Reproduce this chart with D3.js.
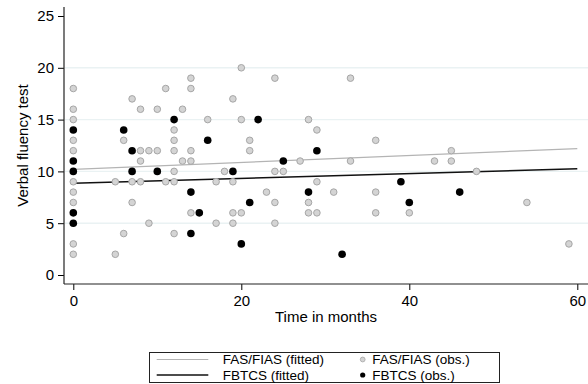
<!DOCTYPE html>
<html>
<head>
<meta charset="utf-8">
<script src="https://cdn.jsdelivr.net/npm/d3@7"></script>
<style>
  html, body { margin: 0; padding: 0; background: #fff; }
  svg { display: block; font-family: "Liberation Sans", Arial, sans-serif; }
</style>
</head>
<body>
<svg id="chart" width="588" height="384"></svg>
<script>
// FAS/FIAS observations: [months, score]
const fasObs = [
  [0,18],[0,16],[0,15],[0,13],[0,12],[0,9],[0,8],[0,7],[0,3],[0,2],
  [5,9],[5,2],
  [6,13],[6,4],
  [7,17],[7,9],[7,7],
  [8,16],[8,12],[8,11],[8,9],
  [9,12],[9,5],
  [10,16],[10,12],
  [11,18],[11,9],
  [12,14],[12,13],[12,12],[12,10],[12,9],[12,4],
  [13,16],[13,11],
  [14,19],[14,18],[14,12],[14,11],[14,6],
  [16,15],
  [17,9],[17,5],
  [18,10],
  [19,17],[19,9],[19,6],[19,5],
  [20,20],[20,15],[20,6],
  [21,13],[21,12],
  [23,8],
  [24,19],[24,10],[24,7],[24,5],
  [25,10],
  [27,11],
  [28,15],[28,7],[28,6],
  [29,14],[29,9],[29,6],
  [31,8],
  [33,19],[33,11],
  [36,13],[36,8],[36,6],
  [40,6],
  [43,11],
  [45,12],[45,11],
  [48,10],
  [54,7],
  [59,3]
];

// FBTCS observations: [months, score]
const fbtcsObs = [
  [0,14],[0,11],[0,10],[0,6],[0,5],
  [6,14],
  [7,12],[7,10],
  [10,10],
  [12,15],
  [14,8],[14,4],
  [15,6],
  [16,13],
  [19,10],
  [20,3],
  [21,7],
  [22,15],
  [25,11],
  [28,8],
  [29,12],
  [32,2],
  [39,9],
  [40,7],
  [46,8]
];

// Fitted lines: endpoints [months, score]
const fasFit = [[0,10.2],[60,12.2]];
const fbtcsFit = [[0,8.85],[60,10.25]];

const xTicks = [0, 20, 40, 60];
const yTicks = [0, 5, 10, 15, 20, 25];
const gridTicks = [5, 10, 15, 20];

const xTitle = "Time in months";
const yTitle = "Verbal fluency test";
const legendLabels = ["FAS/FIAS (fitted)", "FAS/FIAS (obs.)", "FBTCS (fitted)", "FBTCS (obs.)"];

const svg = d3.select("#chart");

const x = d3.scaleLinear().domain([0, 60]).range([73.3, 577.3]);
const y = d3.scaleLinear().domain([0, 25]).range([275, 16]);

const plotLeft = 64, plotRight = 588, plotTop = 7, plotBottom = 284;

// gridlines
svg.append("g")
  .selectAll("line")
  .data(gridTicks)
  .join("line")
  .attr("x1", plotLeft + 1).attr("x2", plotRight)
  .attr("y1", d => y(d)).attr("y2", d => y(d))
  .attr("stroke", "#eaf2f3")
  .attr("stroke-width", 1.4);

// axes
const yAxis = svg.append("g")
  .attr("transform", `translate(${plotLeft},0)`)
  .call(d3.axisLeft(y).tickValues(yTicks).tickSize(6).tickPadding(4).tickFormat(d3.format("d")));
yAxis.select(".domain").remove();
yAxis.selectAll(".tick line").attr("stroke", "#000");
yAxis.selectAll(".tick text").attr("font-size", 15).attr("fill", "#000")
  .attr("font-family", "Liberation Sans, Arial, sans-serif");

const xAxis = svg.append("g")
  .attr("transform", `translate(0,${plotBottom})`)
  .call(d3.axisBottom(x).tickValues(xTicks).tickSize(6).tickPadding(5).tickFormat(d3.format("d")));
xAxis.select(".domain").remove();
xAxis.selectAll(".tick line").attr("stroke", "#000");
xAxis.selectAll(".tick text").attr("font-size", 15).attr("fill", "#000")
  .attr("font-family", "Liberation Sans, Arial, sans-serif");

svg.append("line")
  .attr("x1", plotLeft).attr("x2", plotLeft)
  .attr("y1", plotTop).attr("y2", plotBottom)
  .attr("stroke", "#222").attr("stroke-width", 1.2);
svg.append("line")
  .attr("x1", plotLeft).attr("x2", plotRight)
  .attr("y1", plotBottom).attr("y2", plotBottom)
  .attr("stroke", "#222").attr("stroke-width", 1.2);

// axis titles
svg.append("text")
  .attr("x", (plotLeft + plotRight) / 2).attr("y", 322)
  .attr("text-anchor", "middle").attr("font-size", 15).attr("fill", "#000")
  .text(xTitle);

svg.append("text")
  .attr("transform", `translate(28,${(plotTop + plotBottom) / 2}) rotate(-90)`)
  .attr("text-anchor", "middle").attr("font-size", 15).attr("fill", "#000")
  .text(yTitle);

// fitted lines
const line = d3.line().x(d => x(d[0])).y(d => y(d[1]));
svg.append("path").datum(fasFit).attr("d", line)
  .attr("fill", "none").attr("stroke", "#b4b4b4").attr("stroke-width", 1.2);
svg.append("path").datum(fbtcsFit).attr("d", line)
  .attr("fill", "none").attr("stroke", "#111").attr("stroke-width", 1.5);

// observations
svg.append("g").selectAll("circle")
  .data(fasObs).join("circle")
  .attr("cx", d => x(d[0])).attr("cy", d => y(d[1])).attr("r", 3.3)
  .attr("fill", "#d4d4d4").attr("stroke", "#a6a6a6").attr("stroke-width", 1);

svg.append("g").selectAll("circle")
  .data(fbtcsObs).join("circle")
  .attr("cx", d => x(d[0])).attr("cy", d => y(d[1])).attr("r", 3.8)
  .attr("fill", "#000");

// legend
const lg = svg.append("g");
lg.append("rect")
  .attr("x", 149.5).attr("y", 352.5).attr("width", 350).attr("height", 30)
  .attr("fill", "#fff").attr("stroke", "#222").attr("stroke-width", 1);

const rows = [359.5, 375];
lg.append("line").attr("x1", 156.7).attr("x2", 208.3).attr("y1", rows[0]).attr("y2", rows[0])
  .attr("stroke", "#b4b4b4").attr("stroke-width", 1.2);
lg.append("line").attr("x1", 156.7).attr("x2", 208.3).attr("y1", rows[1]).attr("y2", rows[1])
  .attr("stroke", "#111").attr("stroke-width", 1.5);
lg.append("circle").attr("cx", 362.7).attr("cy", rows[0]).attr("r", 2.4)
  .attr("fill", "#d4d4d4").attr("stroke", "#a6a6a6").attr("stroke-width", 0.8);
lg.append("circle").attr("cx", 362.7).attr("cy", rows[1]).attr("r", 2.6)
  .attr("fill", "#000");

const labelPos = [[222.7, rows[0]], [372.3, rows[0]], [222.7, rows[1]], [372.3, rows[1]]];
lg.selectAll("text.lab")
  .data(legendLabels).join("text")
  .attr("class", "lab")
  .attr("x", (d, i) => labelPos[i][0]).attr("y", (d, i) => labelPos[i][1])
  .attr("dy", "0.36em")
  .attr("font-size", 13.5).attr("fill", "#000")
  .text(d => d);
</script>
</body>
</html>
